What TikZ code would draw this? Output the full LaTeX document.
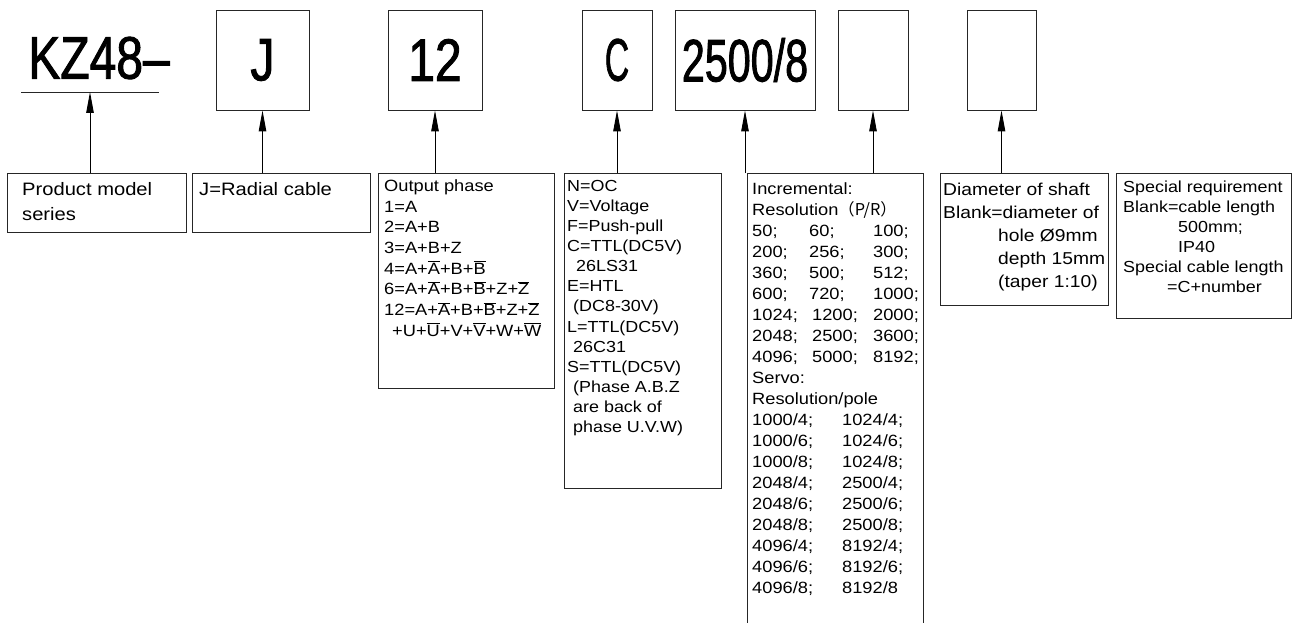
\documentclass[tikz,border=0pt]{standalone}
\usepackage{graphicx}
\usepackage{fontspec}
\setmainfont[FakeStretch=1.12]{Liberation Sans}
\newfontfamily\codefont[FakeStretch=0.8, FakeBold=1.5]{Liberation Sans}
\newfontfamily\cjk{Noto Sans CJK SC}
\usetikzlibrary{arrows.meta, positioning, calc}

\newcommand{\ovl}[1]{$\overline{\mbox{#1}}$}
\newcommand{\rescol}[2]{\makebox[#1][l]{#2}}

\begin{document}
\begin{tikzpicture}[x=1pt, y=-1pt,
    codebox/.style={draw=black!85, line width=0.9pt, minimum height=100pt, inner sep=0pt,
        font=\fontsize{60}{60}\selectfont\codefont},
    descbox/.style={draw=black!85, line width=0.9pt, anchor=north west, inner sep=0pt},
    desctext/.style={anchor=north west, inner sep=0pt, align=left},
    pointer/.style={draw=black, line width=0.9pt, -{Triangle[length=21pt, width=7.5pt]}}]
\clip (0,0) rectangle (1293,623);

% code fields
\node[inner sep=0pt, font=\fontsize{60}{60}\selectfont\codefont] (series) at (99,58) {KZ48–};
\coordinate (kzl) at (21,92);
\coordinate (kzr) at (159,92);
\coordinate (kzmid) at (90,92);
\draw[line width=0.9pt, black!85] (kzl) -- (kzr);

\node[codebox, minimum width=93pt] (cable) at (262.5,60) {J};
\node[codebox, minimum width=94pt] (phase) at (435,60) {12};
\node[codebox, minimum width=70pt] (output) at (617,60) {\scalebox{0.7}[1]{C}};
\node[codebox, minimum width=140pt] (resol) at (745,60) {\scalebox{0.86}[1]{2500/8}};
\node[codebox, minimum width=70pt] (shaft) at (873,60) {};
\node[codebox, minimum width=69pt] (special) at (1001.5,60) {};

% description boxes
\node[descbox, minimum width=179pt, minimum height=59pt] (seriesbox) at (7,173) {};
\node[descbox, minimum width=178pt, minimum height=59pt] (cablebox) at (192,173) {};
\node[descbox, minimum width=176pt, minimum height=215pt] (phasebox) at (378,173) {};
\node[descbox, minimum width=157pt, minimum height=315pt] (outputbox) at (564,173) {};
\node[descbox, minimum width=176pt, minimum height=470pt] (resolbox) at (747,173) {};
\node[descbox, minimum width=168pt, minimum height=132pt] (shaftbox) at (940,173) {};
\node[descbox, minimum width=175pt, minimum height=145pt] (specialbox) at (1116,173) {};

\node[desctext, font=\fontsize{18}{25}\selectfont] (seriestxt) at (22,182)
    {Product model\\series};
\node[desctext, font=\fontsize{18}{25}\selectfont] (cabletxt) at (199,182)
    {J=Radial cable};
\node[desctext, font=\fontsize{16.3}{20.7}\selectfont] (phasetxt) at (384,179.3)
    {Output phase\\
     1=A\\
     2=A+B\\
     3=A+B+Z\\
     4=A+\ovl{A}+B+\ovl{B}\\
     6=A+\ovl{A}+B+\ovl{B}+Z+\ovl{Z}\\
     12=A+\ovl{A}+B+\ovl{B}+Z+\ovl{Z}\\
     \hspace*{8pt}+U+\ovl{U}+V+\ovl{V}+W+\ovl{W}};
\node[desctext, font=\fontsize{16}{20.1}\selectfont] (outputtxt) at (567,180)
    {N=OC\\
     V=Voltage\\
     F=Push-pull\\
     C=TTL(DC5V)\\
     \hspace*{9pt}26LS31\\
     E=HTL\\
     \hspace*{6pt}(DC8-30V)\\
     L=TTL(DC5V)\\
     \hspace*{6pt}26C31\\
     S=TTL(DC5V)\\
     \hspace*{6pt}(Phase A.B.Z\\
     \hspace*{6pt}are back of\\
     \hspace*{6pt}phase U.V.W)};
\node[desctext, font=\fontsize{16.3}{21}\selectfont] (resoltxt) at (752,182)
    {Incremental:\\
     Resolution\cjk{（}P/R\cjk{）}\\
     \rescol{57pt}{50;}\rescol{64pt}{60;}100;\\
     \rescol{57pt}{200;}\rescol{64pt}{256;}300;\\
     \rescol{57pt}{360;}\rescol{64pt}{500;}512;\\
     \rescol{57pt}{600;}\rescol{64pt}{720;}1000;\\
     \rescol{60pt}{1024;}\rescol{61pt}{1200;}2000;\\
     \rescol{60pt}{2048;}\rescol{61pt}{2500;}3600;\\
     \rescol{60pt}{4096;}\rescol{61pt}{5000;}8192;\\
     Servo:\\
     Resolution/pole\\
     \rescol{90pt}{1000/4;}1024/4;\\
     \rescol{90pt}{1000/6;}1024/6;\\
     \rescol{90pt}{1000/8;}1024/8;\\
     \rescol{90pt}{2048/4;}2500/4;\\
     \rescol{90pt}{2048/6;}2500/6;\\
     \rescol{90pt}{2048/8;}2500/8;\\
     \rescol{90pt}{4096/4;}8192/4;\\
     \rescol{90pt}{4096/6;}8192/6;\\
     \rescol{90pt}{4096/8;}8192/8};
\node[desctext, font=\fontsize{17.2}{23}\selectfont] (shafttxt) at (943,182.4)
    {Diameter of shaft\\
     Blank=diameter of\\
     \hspace*{55pt}hole Ø9mm\\
     \hspace*{55pt}depth 15mm\\
     \hspace*{55pt}(taper 1:10)};
\node[desctext, font=\fontsize{16}{20}\selectfont] (specialtxt) at (1123,181.2)
    {Special requirement\\
     Blank=cable length\\
     \hspace*{55pt}500mm;\\
     \hspace*{55pt}IP40\\
     Special cable length\\
     \hspace*{44pt}=C+number};

% pointers
\draw[pointer] (kzmid |- seriesbox.north) -- (kzmid);
\foreach \field/\desc in {cable/cablebox, phase/phasebox, output/outputbox,
    resol/resolbox, shaft/shaftbox, special/specialbox}
  \draw[pointer] (\field.south |- \desc.north) -- (\field.south);
\end{tikzpicture}
\end{document}
